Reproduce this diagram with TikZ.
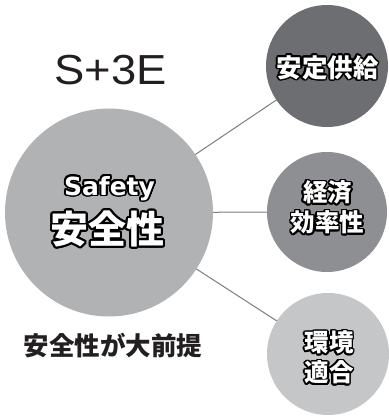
\documentclass[tikz,border=0pt]{standalone}
\usepackage{fontspec}
\usepackage{graphicx}
\usetikzlibrary{backgrounds}
\newfontfamily\jp{Noto Sans CJK JP}
\newfontfamily\lat{Liberation Sans}
\newfontfamily\saf{DejaVu Sans}
\definecolor{mainc}{HTML}{B1B2B4}
\definecolor{topc}{HTML}{6D6E71}
\definecolor{midc}{HTML}{8E8F92}
\definecolor{botc}{HTML}{C5C6C8}
\definecolor{linec}{HTML}{7D7D7D}
\definecolor{darkc}{HTML}{231F20}
% outlined label: #1 name, #2 position, #3 outline radius, #4 node options, #5 text
\newcommand\oltnode[5]{%
  \foreach \ang in {0,20,...,340}{%
    \node[lbl,#4,text=black,shift={(\ang:#3)}] at #2 {#5};}%
  \node[lbl,#4,text=white] (#1) at #2 {#5};}
\tikzset{
  bub/.style={circle, draw=none, inner sep=0pt},
  lbl/.style={inner sep=0pt, align=center},
  conn/.style={draw=linec, line width=1pt}
}
\begin{document}
\begin{tikzpicture}[x=1pt,y=-1pt]
\useasboundingbox (0,0) rectangle (388,417);
\node[bub, fill=mainc, minimum size=208pt] (main) at (109,212.5) {};
\node[bub, fill=topc, minimum size=122pt] (top) at (327,66) {};
\node[bub, fill=midc, minimum size=120pt] (mid) at (327,212) {};
\node[bub, fill=botc, minimum size=122pt] (bot) at (328,354) {};
\begin{pgfonlayer}{background}
\draw[conn] (main.center) -- (top.center);
\draw[conn] (main.center) -- (mid.center);
\draw[conn] (main.center) -- (bot.center);
\end{pgfonlayer}
\node[lbl, anchor=base, text=darkc, font=\lat\fontsize{42}{42}\selectfont] (s3e) at (110.5,85) {\scalebox{1.08}[1]{S+3E}};
\oltnode{safety}{(109.5,195)}{1.8pt}{anchor=base, font=\saf\bfseries\fontsize{25}{25}\selectfont}{Safety}
\oltnode{anzen}{(107.5,229)}{2.2pt}{font=\jp\bfseries\fontsize{38}{38}\selectfont}{安全性}
\oltnode{kyokyu}{(327.5,67.5)}{1.6pt}{font=\jp\bfseries\fontsize{25.5}{25.5}\selectfont}{安定供給}
\oltnode{keizai}{(327.5,207.5)}{1.6pt}{font=\jp\bfseries\fontsize{24.5}{30}\selectfont}{経済\\効率性}
\oltnode{kankyo}{(329,357.5)}{1.6pt}{font=\jp\bfseries\fontsize{24.5}{30}\selectfont}{環境\\適合}
\node[lbl, text=darkc, font=\jp\bfseries\fontsize{25.5}{25.5}\selectfont] (zentei) at (113,346) {安全性が大前提};
\end{tikzpicture}
\end{document}
